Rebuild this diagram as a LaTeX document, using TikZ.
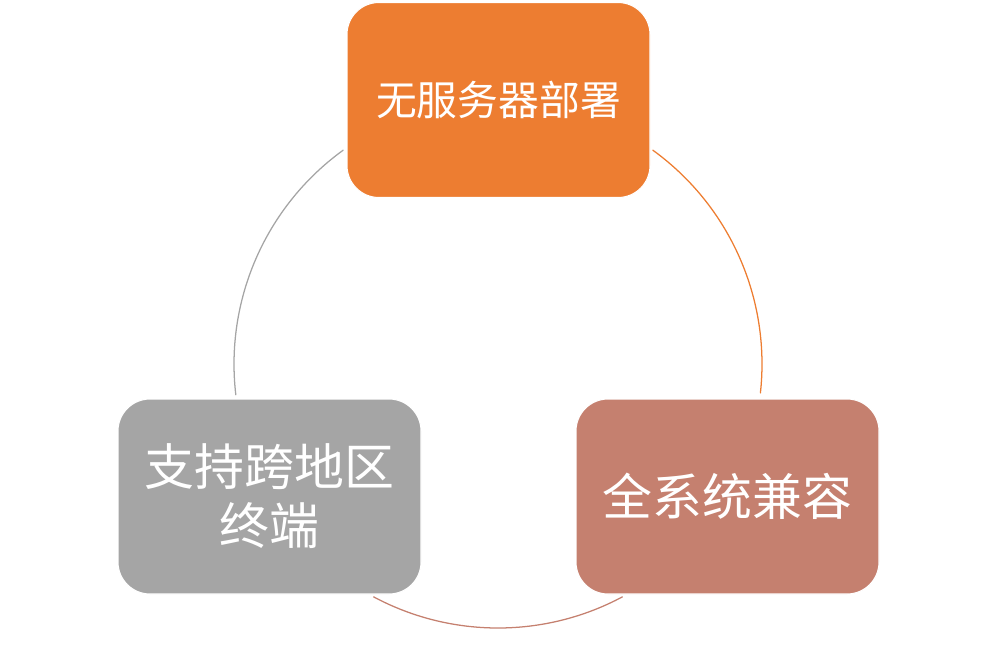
\documentclass[tikz,border=0pt]{standalone}
\usepackage{fontspec}
\setmainfont{Noto Sans CJK SC}
\usetikzlibrary{calc}

\definecolor{topcol}{HTML}{ED7D31}
\definecolor{leftcol}{HTML}{A5A5A5}
\definecolor{rightcol}{HTML}{C5806F}

\tikzset{
  cyclebox/.style={draw=white, line width=0.75pt, rounded corners=0.8cm,
    minimum width=7.575cm, minimum height=4.875cm, text=white, align=center},
  cyclearc/.style={line width=0.9pt, line cap=round}
}

\begin{document}
\begin{tikzpicture}
  \useasboundingbox (0,0) rectangle (24.95,-16.675);

  % Center of the cycle
  \coordinate (C) at (12.45,-9.10);

  % The three boxes
  \node[cyclebox, fill=topcol, font=\fontsize{29}{35}\selectfont] (serverless) at (12.4625,-2.5) {无服务器部署};
  \node[cyclebox, fill=rightcol, font=\fontsize{35.5}{42}\selectfont] (compat) at (18.1875,-12.4125) {全系统兼容};
  \node[cyclebox, fill=leftcol, font=\fontsize{35.5}{42}\selectfont] (terminal) at (6.7375,-12.4125) {支持跨地区\\终端};

  % Arc end points
  \coordinate (a1) at ($(C)+(54.1:6.6)$);
  \coordinate (a2) at ($(C)+(-61.9:6.6)$);
  \coordinate (a3) at ($(C)+(186.7:6.6)$);

  % Arcs joining the boxes
  \draw[cyclearc, topcol] (a1) arc[start angle=54.1, end angle=-6.3, radius=6.6];
  \draw[cyclearc, rightcol] (a2) arc[start angle=-61.9, end angle=-118.1, radius=6.6];
  \draw[cyclearc, leftcol] (a3) arc[start angle=186.7, end angle=125.9, radius=6.6];
\end{tikzpicture}
\end{document}
